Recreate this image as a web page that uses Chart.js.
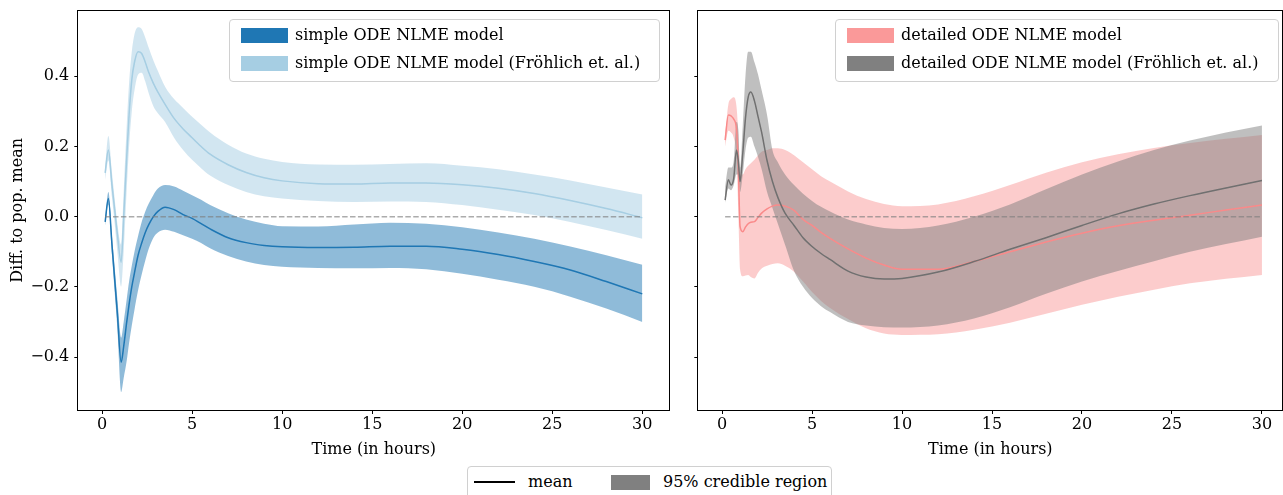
<!DOCTYPE html>
<html>
<head>
<meta charset="utf-8">
<script src="https://cdn.jsdelivr.net/npm/chart.js@4.4.1/dist/chart.umd.min.js"></script>
<style>
  html, body { margin: 0; padding: 0; background: #fff; }
  body { width: 1283px; height: 495px; position: relative; overflow: hidden; font-family: "DejaVu Serif", serif; }
  canvas { position: absolute; top: 0; }
  .leg { position: absolute; border: 1px solid #d0d0d0; border-radius: 4px; background: rgba(255,255,255,0.8); box-sizing: border-box; }
  .leg .patch { position: absolute; width: 47px; height: 15px; }
  .leg .txt { position: absolute; font-size: 16px; line-height: 20px; color: #000; white-space: nowrap; }
</style>
</head>
<body>
<canvas id="cL" width="680" height="460" style="left:0px;width:680px;height:460px"></canvas>
<canvas id="cR" width="603" height="460" style="left:680px;width:603px;height:460px"></canvas>

<div class="leg" style="left:229px;top:19px;width:431px;height:63px;">
  <div class="patch" style="left:11px;top:8px;background:#1f77b4"></div>
  <div class="txt" style="left:65px;top:5px;">simple ODE NLME model</div>
  <div class="patch" style="left:11px;top:36px;background:#a6cee3"></div>
  <div class="txt" style="left:65px;top:33px;">simple ODE NLME model (Fröhlich et. al.)</div>
</div>
<div class="leg" style="left:835px;top:19px;width:444px;height:63px;">
  <div class="patch" style="left:11px;top:8px;background:#fa9999"></div>
  <div class="txt" style="left:65px;top:5px;">detailed ODE NLME model</div>
  <div class="patch" style="left:11px;top:36px;background:#808080"></div>
  <div class="txt" style="left:65px;top:33px;">detailed ODE NLME model (Fröhlich et. al.)</div>
</div>
<div class="leg" style="left:467px;top:466px;width:365px;height:40px;">
  <div style="position:absolute;left:6px;top:14px;width:41px;height:2px;background:#000"></div>
  <div class="txt" style="left:60px;top:5px;">mean</div>
  <div class="patch" style="left:143px;top:8px;width:39px;background:#808080"></div>
  <div class="txt" style="left:195px;top:5px;">95% credible region</div>
</div>

<script>
// ---------------- data ----------------
const timeLeft = [0.17, 0.35, 0.55, 0.7, 0.85, 1.06, 1.2, 1.37, 1.5, 1.65, 1.8, 2.0, 2.2, 2.4, 2.6, 2.85, 3.1, 3.5, 4, 4.5, 5, 5.5, 6, 7, 8, 9, 10, 12, 14, 16, 18, 20, 22, 24, 26, 28, 30];

const simpleMean  = [-0.015, 0.052, -0.08, -0.178, -0.276, -0.415, -0.37, -0.3, -0.25, -0.2, -0.16, -0.11, -0.075, -0.045, -0.022, 0.0, 0.015, 0.027, 0.02, 0.006, -0.005, -0.02, -0.035, -0.06, -0.074, -0.082, -0.086, -0.088, -0.087, -0.084, -0.084, -0.093, -0.108, -0.128, -0.152, -0.185, -0.22];
const simpleUpper = [-0.005, 0.07, -0.055, -0.145, -0.235, -0.345, -0.3, -0.235, -0.185, -0.14, -0.1, -0.055, -0.015, 0.015, 0.038, 0.062, 0.08, 0.09, 0.086, 0.074, 0.061, 0.048, 0.033, 0.01, -0.008, -0.02, -0.027, -0.028, -0.022, -0.017, -0.02, -0.03, -0.045, -0.063, -0.085, -0.11, -0.137];
const simpleLower = [-0.025, 0.035, -0.11, -0.215, -0.32, -0.5, -0.46, -0.41, -0.36, -0.31, -0.265, -0.21, -0.165, -0.125, -0.09, -0.06, -0.045, -0.037, -0.043, -0.053, -0.063, -0.075, -0.09, -0.112, -0.128, -0.138, -0.143, -0.146, -0.147, -0.146, -0.15, -0.163, -0.18, -0.2, -0.228, -0.262, -0.3];

const simpleFrMean  = [0.125, 0.19, 0.09, 0.02, -0.05, -0.13, 0.0, 0.17, 0.29, 0.39, 0.44, 0.47, 0.465, 0.44, 0.41, 0.38, 0.355, 0.32, 0.28, 0.25, 0.225, 0.2, 0.178, 0.148, 0.126, 0.111, 0.102, 0.094, 0.093, 0.096, 0.096, 0.091, 0.081, 0.066, 0.046, 0.023, -0.003];
const simpleFrUpper = [0.145, 0.23, 0.125, 0.05, -0.02, -0.08, 0.07, 0.26, 0.38, 0.47, 0.52, 0.54, 0.535, 0.51, 0.48, 0.445, 0.415, 0.37, 0.335, 0.31, 0.285, 0.262, 0.24, 0.205, 0.18, 0.165, 0.156, 0.149, 0.148, 0.15, 0.152, 0.145, 0.135, 0.12, 0.103, 0.083, 0.063];
const simpleFrLower = [0.105, 0.16, 0.055, -0.02, -0.1, -0.2, -0.1, 0.08, 0.2, 0.3, 0.36, 0.405, 0.41, 0.385, 0.35, 0.315, 0.295, 0.27, 0.225, 0.19, 0.162, 0.138, 0.117, 0.09, 0.07, 0.058, 0.052, 0.045, 0.042, 0.043, 0.042, 0.033, 0.02, 0.005, -0.015, -0.038, -0.063];

const timeRight = [0.17, 0.35, 0.5, 0.65, 0.8, 0.9, 1.0, 1.15, 1.3, 1.45, 1.6, 1.8, 2.0, 2.2, 2.5, 2.8, 3.1, 3.5, 4.0, 4.5, 5, 5.5, 6, 7, 8, 9, 10, 12, 14, 16, 18, 20, 22, 24, 26, 28, 30];

const detailedMean  = [0.218, 0.29, 0.287, 0.278, 0.25, 0.15, -0.028, -0.043, -0.03, -0.02, -0.016, -0.014, -0.002, 0.01, 0.022, 0.03, 0.033, 0.03, 0.018, -0.008, -0.025, -0.045, -0.062, -0.092, -0.118, -0.138, -0.15, -0.15, -0.128, -0.1, -0.072, -0.047, -0.026, -0.01, 0.004, 0.019, 0.033];
const detailedUpper = [0.235, 0.32, 0.335, 0.34, 0.315, 0.24, 0.12, 0.12, 0.135, 0.145, 0.152, 0.162, 0.175, 0.185, 0.19, 0.195, 0.195, 0.19, 0.175, 0.155, 0.135, 0.115, 0.1, 0.072, 0.05, 0.036, 0.03, 0.035, 0.058, 0.09, 0.125, 0.155, 0.178, 0.196, 0.21, 0.222, 0.233];
const detailedLower = [0.2, 0.245, 0.24, 0.225, 0.17, 0.02, -0.15, -0.17, -0.168, -0.166, -0.172, -0.176, -0.16, -0.148, -0.14, -0.135, -0.133, -0.14, -0.157, -0.185, -0.215, -0.24, -0.26, -0.292, -0.318, -0.333, -0.337, -0.335, -0.322, -0.302, -0.277, -0.251, -0.228, -0.208, -0.19, -0.177, -0.166];

const detailedFrMean  = [0.047, 0.105, 0.09, 0.11, 0.19, 0.16, 0.10, 0.18, 0.28, 0.34, 0.355, 0.33, 0.285, 0.24, 0.16, 0.10, 0.055, 0.01, -0.025, -0.06, -0.085, -0.105, -0.122, -0.155, -0.172, -0.178, -0.176, -0.158, -0.128, -0.093, -0.06, -0.025, 0.008, 0.036, 0.06, 0.082, 0.103];
const detailedFrUpper = [0.085, 0.14, 0.14, 0.16, 0.27, 0.25, 0.14, 0.26, 0.40, 0.47, 0.47, 0.44, 0.405, 0.36, 0.29, 0.19, 0.155, 0.12, 0.09, 0.065, 0.045, 0.028, 0.015, -0.008, -0.022, -0.032, -0.035, -0.025, 0.0, 0.035, 0.078, 0.12, 0.157, 0.19, 0.217, 0.24, 0.26];
const detailedFrLower = [0.04, 0.08, 0.075, 0.09, 0.12, 0.12, 0.07, 0.12, 0.19, 0.225, 0.228, 0.2, 0.17, 0.135, 0.07, 0.025, -0.02, -0.08, -0.155, -0.2, -0.232, -0.255, -0.272, -0.3, -0.31, -0.315, -0.316, -0.31, -0.29, -0.258, -0.22, -0.185, -0.155, -0.127, -0.1, -0.078, -0.057];

const xTicks = [0, 5, 10, 15, 20, 25, 30];
const yTicks = [-0.4, -0.2, 0.0, 0.2, 0.4];
const xTitle = 'Time (in hours)';
const yTitle = 'Diff. to pop. mean';

// ---------------- helpers ----------------
const FONT = { family: '"DejaVu Serif", serif', size: 16 };
const pts = (t, v) => t.map((x, i) => ({ x: x, y: v[i] }));

function band(t, lo, hi, color, ord) {
  return [
    { data: pts(t, lo), borderWidth: 0, pointRadius: 0, fill: false, order: ord, cubicInterpolationMode: 'monotone' },
    { data: pts(t, hi), borderWidth: 0, pointRadius: 0, fill: '-1', backgroundColor: color, order: ord, cubicInterpolationMode: 'monotone' }
  ];
}
function line(t, v, color, ord) {
  return { data: pts(t, v), borderColor: color, borderWidth: 1.5, pointRadius: 0, fill: false, order: ord, cubicInterpolationMode: 'monotone' };
}
function zeroLine(t) {
  return { data: [{ x: t[0], y: 0 }, { x: t[t.length - 1], y: 0 }], borderColor: 'rgba(128,128,128,0.65)', borderWidth: 1.5, borderDash: [5.5, 2.4], pointRadius: 0, fill: false, order: 0 };
}

const framePlugin = {
  id: 'frame',
  afterDraw(chart) {
    const a = chart.chartArea, ctx = chart.ctx;
    ctx.save();
    ctx.strokeStyle = '#000';
    ctx.lineWidth = 1;
    ctx.strokeRect(Math.round(a.left) - 0.5, Math.round(a.top) - 0.5, Math.round(a.right - a.left) + 1, Math.round(a.bottom - a.top) + 1);
    ctx.restore();
  }
};

function makeOptions(xmin, xmax, showY, yWidth, padRight) {
  return {
    responsive: false, animation: false, devicePixelRatio: 1, events: [],
    layout: { padding: { left: 0, top: 10.7, right: padRight, bottom: 0 } },
    plugins: { legend: { display: false }, tooltip: { enabled: false } },
    scales: {
      x: {
        type: 'linear', min: xmin, max: xmax,
        afterBuildTicks: s => { s.ticks = xTicks.map(v => ({ value: v })); },
        afterFit: s => { s.height = 50; s.paddingLeft = 0; s.paddingRight = 0; },
        ticks: { font: FONT, color: '#000', padding: 1, maxRotation: 0, autoSkip: false, callback: v => String(v) },
        grid: { display: true, drawOnChartArea: false, drawTicks: true, tickLength: 4, color: '#000', lineWidth: 1 },
        border: { display: false },
        title: { display: true, text: xTitle, font: FONT, color: '#000', padding: { top: 0, bottom: 0.5 } }
      },
      y: {
        type: 'linear', min: -0.551, max: 0.587,
        afterBuildTicks: s => { s.ticks = yTicks.map(v => ({ value: v })); },
        afterFit: s => { s.width = yWidth; s.paddingTop = 0; s.paddingBottom = 0; },
        ticks: { font: FONT, color: '#000', padding: 5, callback: v => showY ? v.toFixed(1).replace('-', '\u2212') : '' },
        grid: { display: true, drawOnChartArea: false, drawTicks: true, tickLength: 4, color: '#000', lineWidth: 1 },
        border: { display: false },
        title: { display: showY, text: yTitle, font: FONT, color: '#000', padding: { top: 7.9, bottom: 0 } }
      }
    }
  };
}

new Chart(document.getElementById('cL'), {
  type: 'line',
  data: {
    datasets: [
      ...band(timeLeft, simpleLower, simpleUpper, 'rgba(31,119,180,0.5)', 20),
      ...band(timeLeft, simpleFrLower, simpleFrUpper, 'rgba(166,206,227,0.5)', 15),
      line(timeLeft, simpleMean, '#1f77b4', 5),
      line(timeLeft, simpleFrMean, '#a6cee3', 4),
      zeroLine(timeLeft)
    ]
  },
  options: makeOptions(-1.32, 31.5, true, 78.3, 10.7),
  plugins: [framePlugin]
});

new Chart(document.getElementById('cR'), {
  type: 'line',
  data: {
    datasets: [
      ...band(timeRight, detailedLower, detailedUpper, 'rgba(250,153,153,0.5)', 20),
      ...band(timeRight, detailedFrLower, detailedFrUpper, 'rgba(128,128,128,0.5)', 15),
      line(timeRight, detailedMean, '#fa8a8a', 5),
      line(timeRight, detailedFrMean, '#707070', 4),
      zeroLine(timeRight)
    ]
  },
  options: makeOptions(-1.32, 31.13, false, 18.3, 0.7),
  plugins: [framePlugin]
});
</script>
</body>
</html>
